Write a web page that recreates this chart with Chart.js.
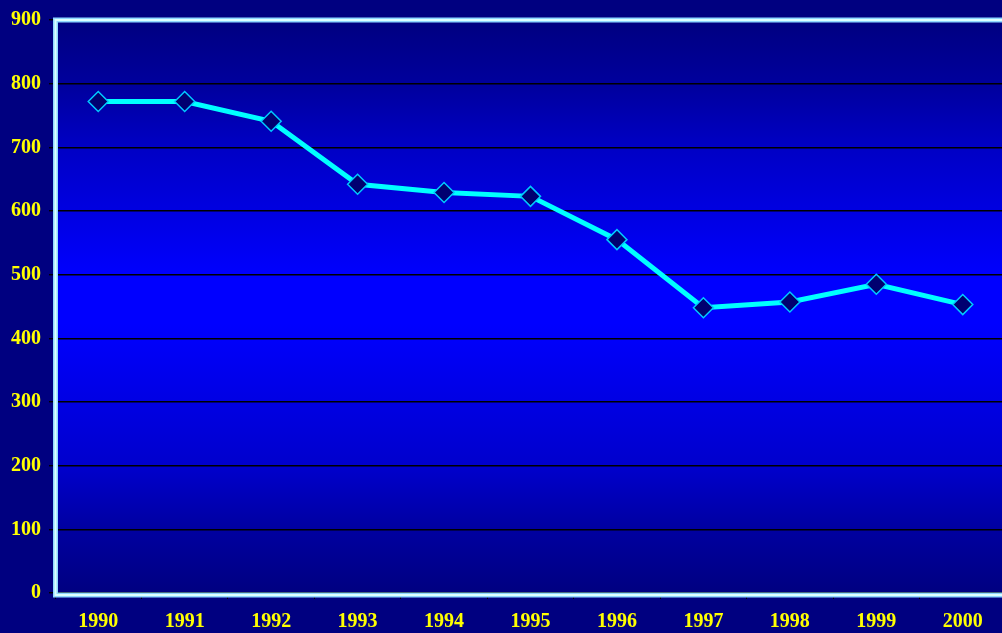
<!DOCTYPE html>
<html><head><meta charset="utf-8">
<style>
html,body{margin:0;padding:0;background:#000080;overflow:hidden;width:1002px;height:633px}
#wrap{position:relative;width:1010px;height:633px}
canvas{display:block}
</style>
<script src="https://cdn.jsdelivr.net/npm/chart.js@4"></script>
</head><body>
<div id="wrap"><canvas id="c" width="1010" height="633"></canvas></div>
<script>
const years = ['1990','1991','1992','1993','1994','1995','1996','1997','1998','1999','2000'];
const values = [772, 772, 741, 642, 629, 623, 555, 448, 457, 485, 453];
const yMin = 0;
const yMax = 900;
const yStep = 100;

const labelFont = {family: "'Liberation Serif', 'Times New Roman', serif", weight: 'bold', size: 20};

const bgPlugin = {
  id: 'bg',
  beforeDraw(chart) {
    const {ctx, chartArea: a} = chart;
    const g = ctx.createLinearGradient(0, a.top, 0, a.bottom);
    g.addColorStop(0, '#000080');
    g.addColorStop(0.11, '#00009c');
    g.addColorStop(0.22, '#0000c4');
    g.addColorStop(0.45, '#0000ff');
    g.addColorStop(0.53, '#0000ff');
    g.addColorStop(0.78, '#0000cc');
    g.addColorStop(0.89, '#0000a0');
    g.addColorStop(1, '#000080');
    ctx.save();
    ctx.fillStyle = g;
    ctx.fillRect(a.left, a.top, a.right - a.left, a.bottom - a.top);
    ctx.restore();
  },
  afterDraw(chart) {
    const {ctx, chartArea: a} = chart;
    ctx.save();
    ctx.lineJoin = 'miter';
    const x = a.left + 0.5, t = a.top, b = a.bottom + 2, r = a.right + 10;
    ctx.beginPath();
    ctx.moveTo(r, t); ctx.lineTo(x, t); ctx.lineTo(x, b); ctx.lineTo(r, b);
    ctx.strokeStyle = '#8fd8ff';
    ctx.lineWidth = 5;
    ctx.stroke();
    ctx.strokeStyle = '#dcffff';
    ctx.lineWidth = 2;
    ctx.stroke();
    ctx.restore();
  }
};

new Chart(document.getElementById('c'), {
  type: 'line',
  data: {
    labels: years,
    datasets: [{
      data: values,
      borderColor: '#00ffff',
      borderWidth: 5,
      tension: 0,
      pointStyle: 'rectRot',
      pointRadius: 10,
      pointHoverRadius: 10,
      pointBackgroundColor: '#000070',
      pointBorderColor: '#00c8ff',
      pointBorderWidth: 1.5
    }]
  },
  options: {
    responsive: false,
    animation: false,
    devicePixelRatio: 1,
    layout: {autoPadding: false, padding: {top: 17, right: 4, left: 0, bottom: 0}},
    plugins: {legend: {display: false}, tooltip: {enabled: false}},
    scales: {
      x: {
        type: 'category',
        offset: true,
        grid: {offset: true, drawOnChartArea: false, drawTicks: true, tickLength: 6, color: '#000000'},
        border: {display: false},
        ticks: {color: '#ffff00', font: labelFont, padding: 11, maxRotation: 0, autoSkip: false},
        afterFit(s) { s.height = 40; }
      },
      y: {
        min: yMin, max: yMax,
        grid: {color: '#000000', lineWidth: 1.4, tickLength: 6},
        border: {display: false},
        ticks: {stepSize: yStep, color: '#ffff00', font: labelFont, padding: 8},
        afterFit(s) { s.width = 55; }
      }
    }
  },
  plugins: [bgPlugin]
});
</script>
</body></html>
